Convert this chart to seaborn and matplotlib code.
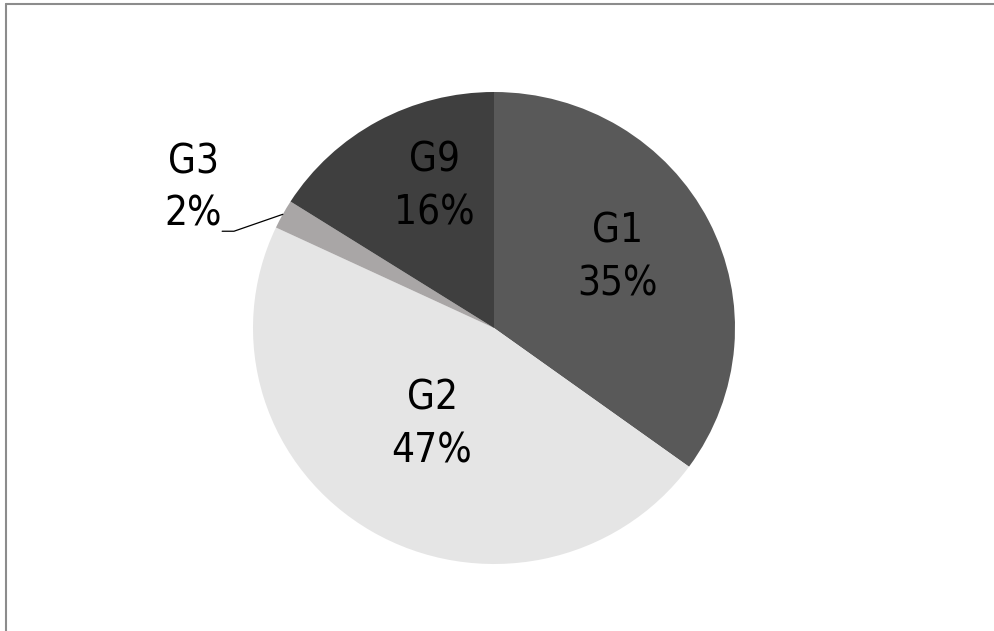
import numpy as np
import matplotlib
matplotlib.use("Agg")
import matplotlib.pyplot as plt
from matplotlib import font_manager
from matplotlib.lines import Line2D
import seaborn as sns

labels = ["G1", "G2", "G3", "G9"]
values = [35, 47, 2, 16]
colors = ["#595959", "#e5e5e5", "#a9a6a6", "#3f3f3f"]

sns.set_theme(style="white")
plt.rcParams["font.family"] = ["DejaVu Sans"]
plt.rcParams["font.stretch"] = "condensed"
fp = font_manager.FontProperties(family="DejaVu Sans", stretch="condensed")
condensed_ok = "ondensed" in font_manager.findfont(fp)

W, H = 995, 631
fig = plt.figure(figsize=(W / 100, H / 100), dpi=100)
cx, cy, rx, ry = 494, 328, 241, 236
ax = fig.add_axes([(cx - rx) / W, (H - cy - ry) / H, 2 * rx / W, 2 * ry / H])
wedges, _ = ax.pie(values, colors=colors, startangle=90, counterclock=False,
                   radius=1.0, wedgeprops=dict(linewidth=0))
ax.set_aspect("auto")
ax.set_xlim(-1, 1)
ax.set_ylim(-1, 1)
ax.axis("off")

# label placement: (distance from centre, angle shift from wedge middle, degrees)
place = {"G1": (0.594, 3.0), "G2": (0.485, -1.4), "G3": (1.381, 3.5), "G9": (0.647, -6.2)}
fs = 29 if condensed_ok else 27
for w, lab, v in zip(wedges, labels, values):
    mid_deg = (w.theta1 + w.theta2) / 2
    d, shift = place[lab]
    a = np.deg2rad(mid_deg + shift)
    txt = f"{lab}\n{v}%"
    ax.text(d * np.cos(a), d * np.sin(a), txt, ha="center", va="center",
            fontsize=fs, color="black", linespacing=1.4, clip_on=False,
            fontstretch="condensed")
    if lab == "G3":
        m = np.deg2rad(mid_deg)
        ex, ey = np.cos(m), np.sin(m)
        ax.add_line(Line2D([-1.128, -1.079, ex], [0.41, 0.41, ey],
                           color="black", lw=0.9, clip_on=False))

# figure frame (top and left edges visible)
fig.add_artist(Line2D([5.5 / W, 5.5 / W], [0, 1 - 3.5 / H], transform=fig.transFigure,
                      color="#8c8c8c", lw=1.5))
fig.add_artist(Line2D([5.5 / W, 1], [1 - 3.5 / H, 1 - 3.5 / H], transform=fig.transFigure,
                      color="#8c8c8c", lw=1.5))

fig.savefig("out.png", dpi=100, facecolor="white")
